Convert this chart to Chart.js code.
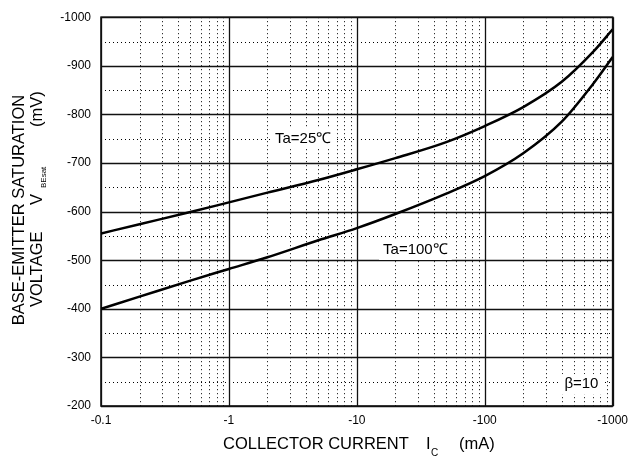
<!DOCTYPE html>
<html>
<head>
<meta charset="utf-8">
<script src="https://cdn.jsdelivr.net/npm/chart.js@4"></script>
<style>
  html, body { margin: 0; padding: 0; background: #fff; }
  #wrap { width: 635px; height: 462px; }
</style>
</head>
<body>
<div id="wrap"><canvas id="vbeChart" width="635" height="462"></canvas></div>
<script>
// collector current, mA (shown as negative values on the axis)
var currents = [0.1, 0.2, 0.5, 1, 2, 5, 10, 20, 50, 100, 200, 400, 700, 1000];
// V_BEsat in mV
var vbe25 = [-555, -574, -599, -619, -639, -665, -687, -710, -743, -776, -815, -867, -928, -975];
var vbe100 = [-400, -425, -458, -482, -506, -541, -566, -595, -637, -673, -720, -785, -862, -918];

var xDecades = [0.1, 1, 10, 100, 1000];
var yTicks = [-1000, -900, -800, -700, -600, -500, -400, -300, -200];

var FONT = '"Liberation Sans", Arial, sans-serif';

function toPoints(xs, ys) {
    return xs.map(function (x, i) { return { x: x, y: ys[i] }; });
}

// grid, frame and the text labels on the plot
var gridPlugin = {
    id: 'gridPlugin',
    beforeDatasetsDraw: function (chart) {
        var ctx = chart.ctx;
        var a = chart.chartArea;
        var xs = chart.scales.x;
        var ys = chart.scales.y;
        ctx.save();

        // dotted minor lines
        ctx.strokeStyle = '#000';
        ctx.lineWidth = 1;
        ctx.setLineDash([1, 3]);
        ctx.beginPath();
        for (var d = 0; d < xDecades.length - 1; d++) {
            for (var k = 2; k <= 9; k++) {
                var px = Math.round(xs.getPixelForValue(k * xDecades[d])) + 0.5;
                ctx.moveTo(px, a.top);
                ctx.lineTo(px, a.bottom);
            }
        }
        for (var v = -950; v < -200; v += 100) {
            var py = Math.round(ys.getPixelForValue(v)) + 0.5;
            ctx.moveTo(a.left, py);
            ctx.lineTo(a.right, py);
        }
        ctx.stroke();

        // solid major lines
        ctx.setLineDash([]);
        ctx.strokeStyle = '#111';
        ctx.lineWidth = 1.3;
        ctx.beginPath();
        xDecades.forEach(function (x) {
            var px = Math.round(xs.getPixelForValue(x)) + 0.5;
            ctx.moveTo(px, a.top);
            ctx.lineTo(px, a.bottom);
        });
        yTicks.forEach(function (y) {
            var py = Math.round(ys.getPixelForValue(y)) + 0.5;
            ctx.moveTo(a.left, py);
            ctx.lineTo(a.right, py);
        });
        ctx.stroke();

        ctx.lineWidth = 1.6;
        ctx.strokeRect(a.left, a.top, a.right - a.left, a.bottom - a.top);

        // labels with a white box behind them
        ctx.font = '15px ' + FONT;
        ctx.textAlign = 'center';
        ctx.textBaseline = 'middle';
        [['Ta=25\u2103', 3.8, -750], ['Ta=100\u2103', 28.7, -521], ['\u03b2=10', 570, -245]].forEach(function (l) {
            var cx = xs.getPixelForValue(l[1]);
            var cy = ys.getPixelForValue(l[2]);
            var w = ctx.measureText(l[0]).width;
            ctx.fillStyle = '#fff';
            ctx.fillRect(cx - w / 2 - 4, cy - 10, w + 8, 20);
            ctx.fillStyle = '#000';
            ctx.fillText(l[0], cx, cy);
        });
        ctx.restore();
    },
    afterDraw: function (chart) {
        var ctx = chart.ctx;
        ctx.save();
        ctx.fillStyle = '#000';
        ctx.textBaseline = 'middle';
        ctx.textAlign = 'left';

        // x title with subscript
        var yT = 444;
        ctx.font = '16.5px ' + FONT;
        ctx.fillText('COLLECTOR CURRENT', 223, yT);
        ctx.fillText('I', 426, yT);
        ctx.fillText('(mA)', 459, yT);
        ctx.font = '10px ' + FONT;
        ctx.fillText('C', 431, yT + 9);

        // y title, two rotated lines
        ctx.save();
        ctx.translate(19, 210);
        ctx.rotate(-Math.PI / 2);
        ctx.textAlign = 'center';
        ctx.font = '16.5px ' + FONT;
        ctx.fillText('BASE-EMITTER SATURATION', 0, 0);
        ctx.restore();

        ctx.save();
        ctx.translate(37, 307);
        ctx.rotate(-Math.PI / 2);
        ctx.textAlign = 'left';
        ctx.font = '16.5px ' + FONT;
        ctx.fillText('VOLTAGE', 0, 0);
        ctx.fillText('V', 102, 0);
        ctx.fillText('(mV)', 180, 0);
        ctx.font = '8px ' + FONT;
        ctx.fillText('BEsat', 119, 7);
        ctx.restore();

        ctx.restore();
    }
};

var ctx = document.getElementById('vbeChart').getContext('2d');
var myChart = new Chart(ctx, {
    type: 'line',
    data: {
        datasets: [{
            label: 'Ta=25',
            data: toPoints(currents, vbe25),
            borderColor: '#000',
            borderWidth: 2.5,
            pointRadius: 0,
            cubicInterpolationMode: 'monotone',
            fill: false
        }, {
            label: 'Ta=100',
            data: toPoints(currents, vbe100),
            borderColor: '#000',
            borderWidth: 2.5,
            pointRadius: 0,
            cubicInterpolationMode: 'monotone',
            fill: false
        }]
    },
    options: {
        responsive: false,
        animation: false,
        events: [],
        layout: { padding: { left: 0, right: 18, top: 15, bottom: 0 } },
        plugins: {
            legend: { display: false },
            tooltip: { enabled: false }
        },
        scales: {
            x: {
                type: 'logarithmic',
                min: 0.1,
                max: 1000,
                grid: { display: false, drawTicks: false },
                border: { display: false },
                afterBuildTicks: function (s) {
                    s.ticks = xDecades.map(function (v) { return { value: v }; });
                },
                afterFit: function (s) { s.height = 56; },
                ticks: {
                    autoSkip: false,
                    maxRotation: 0,
                    padding: 7,
                    color: '#000',
                    font: { family: FONT, size: 12 },
                    callback: function (v) { return '-' + v; }
                }
            },
            y: {
                type: 'linear',
                min: -1000,
                max: -200,
                reverse: true,
                grid: { display: false, drawTicks: false },
                border: { display: false },
                afterFit: function (s) { s.width = 101; },
                ticks: {
                    stepSize: 100,
                    padding: 10,
                    color: '#000',
                    font: { family: FONT, size: 12 },
                    callback: function (v) { return String(v); }
                }
            }
        }
    },
    plugins: [gridPlugin]
});
</script>
</body>
</html>
